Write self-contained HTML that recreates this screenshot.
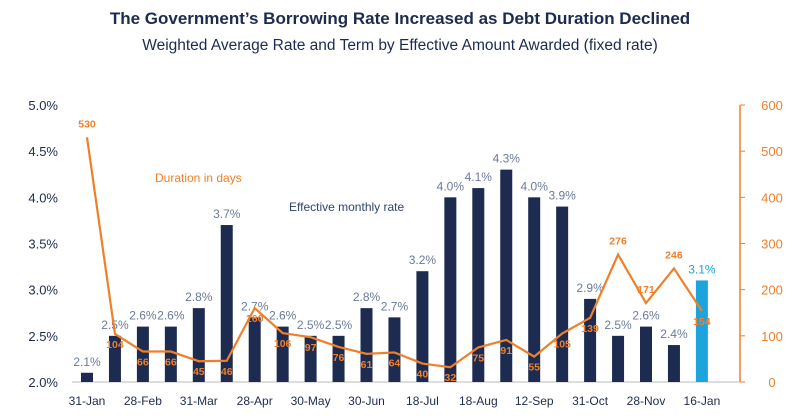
<!DOCTYPE html>
<html><head><meta charset="utf-8"><style>
body{margin:0;background:#fff;font-family:"Liberation Sans",sans-serif;}
svg text{font-family:"Liberation Sans",sans-serif;}
</style></head><body>
<svg width="800" height="414" viewBox="0 0 800 414">
<text x="400" y="24" text-anchor="middle" font-size="17" font-weight="bold" fill="#1c2b4f">The Government’s Borrowing Rate Increased as Debt Duration Declined</text>
<text x="400" y="50" text-anchor="middle" font-size="15.5" fill="#1c2b4f">Weighted Average Rate and Term by Effective Amount Awarded (fixed rate)</text>
<text x="155" y="182" font-size="12" fill="#f07f2a">Duration in days</text>
<text x="289" y="211" font-size="12" fill="#2f4373">Effective monthly rate</text>
<g id="g"></g>
</svg>
<script>
const rates=[2.1,2.5,2.6,2.6,2.8,3.7,2.7,2.6,2.5,2.5,2.8,2.7,3.2,4.0,4.1,4.3,4.0,3.9,2.9,2.5,2.6,2.4,3.1];
const durations=[530,104,66,66,45,46,160,106,97,76,61,64,40,32,75,91,55,105,139,276,171,246,154];
const xLabels=["31-Jan","28-Feb","31-Mar","28-Apr","30-May","30-Jun","18-Jul","18-Aug","12-Sep","31-Oct","28-Nov","16-Jan"];
const leftTicks=[2.0,2.5,3.0,3.5,4.0,4.5,5.0];
const rightTicks=[0,100,200,300,400,500,600];
const NS="http://www.w3.org/2000/svg",g=document.getElementById('g');
const y0=382,y1=105;
const yL=v=>y0-(v-2)/3*(y0-y1);
const yR=v=>y0-v/600*(y0-y1);
const xB=i=>87+i*27.95;
function el(t,a,txt){const e=document.createElementNS(NS,t);for(const k in a)e.setAttribute(k,a[k]);if(txt!=null)e.textContent=txt;g.appendChild(e);return e;}
leftTicks.forEach(v=>{const t=el('text',{x:58,y:yL(v)+5,'text-anchor':'end','font-size':13,fill:'#1c2b4f'},v.toFixed(1)+'%');

});
rightTicks.forEach(v=>{const t=el('text',{x:772,y:yR(v)+5,'text-anchor':'middle','font-size':13,fill:'#f07f2a'},v);


const k=el('line',{x1:740,x2:745,y1:yR(v),y2:yR(v),stroke:'#f07f2a','stroke-width':1});

});
const ra=el('line',{x1:740,x2:740,y1:y1,y2:y0,stroke:'#f07f2a','stroke-width':1.5});


const bl=el('line',{x1:72,x2:740,y1:y0,y2:y0,stroke:'#bbb','stroke-width':1});


rates.forEach((v,i)=>{const last=i===rates.length-1;
const r=el('rect',{x:xB(i)-6,y:yL(v),width:12,height:y0-yL(v),fill:last?'#1ea4dc':'#1c2b4f'});


const t=el('text',{x:xB(i),y:yL(v)-7,'text-anchor':'middle','font-size':12,fill:last?'#1ea4dc':'#6b7a99'},v.toFixed(1)+'%');

});
const pts=durations.map((v,i)=>xB(i)+','+yR(v)).join(' ');
const pl=el('polyline',{points:pts,fill:'none',stroke:'#f07f2a','stroke-width':2.2});


durations.forEach((v,i)=>{const big=v>165;
const t=el('text',{x:xB(i),y:big?yR(v)-10:yR(v)+14,'text-anchor':'middle','font-size':10.5,'font-weight':'bold',fill:'#f07f2a'},v);

});
xLabels.forEach((s,j)=>{const t=el('text',{x:xB(j*2),y:405,'text-anchor':'middle','font-size':12,fill:'#1c2b4f'},s);

});
</script>
</body></html>
